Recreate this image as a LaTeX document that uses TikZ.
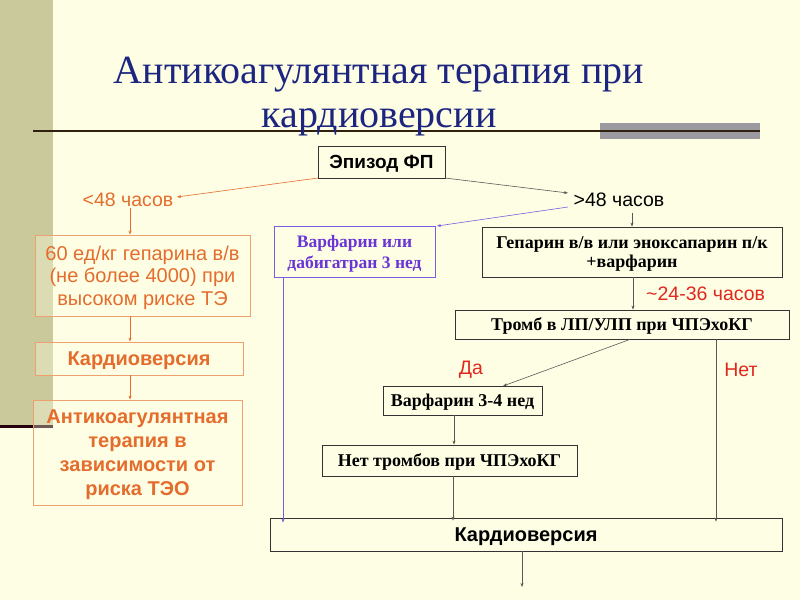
\documentclass[tikz,border=0pt]{standalone}
\usepackage{fontspec}
\setmainfont{Liberation Serif}
\newfontfamily\arial{Liberation Sans}
\usetikzlibrary{arrows.meta}
\definecolor{bg}{HTML}{FEFEE4}
\definecolor{strip}{HTML}{C9C99B}
\definecolor{navy}{HTML}{1C2580}
\definecolor{orng}{HTML}{E46C2C}
\definecolor{orngb}{HTML}{EFA070}
\definecolor{purp}{HTML}{6A35D6}
\definecolor{purpb}{HTML}{7C5CE0}
\definecolor{redt}{HTML}{E0281E}
\definecolor{barg}{HTML}{9A9AA0}
\tikzset{
  blk/.style={draw=black!80,line width=0.8pt,fill=bg,inner sep=0pt,align=center,text depth=0pt,font=\bfseries\fontsize{18}{20}\selectfont},
  orbox/.style={draw=orngb,line width=0.9pt,fill=bg,fill opacity=0.35,text opacity=1,inner sep=0pt,text=orng,align=center,text depth=0pt},
  pubox/.style={draw=purpb,line width=0.9pt,fill=bg,inner sep=0pt,text=purp,align=center,text depth=0pt,font=\bfseries\fontsize{17.5}{21}\selectfont},
  lbl/.style={font=\arial\fontsize{19.5}{22}\selectfont,inner sep=1pt},
  arr/.style={-{Stealth[length=4pt,width=3pt]},line width=0.6pt,draw=black!65},
  oarr/.style={-{Stealth[length=4pt,width=3pt]},line width=0.6pt,draw=orng},
  parr/.style={-{Stealth[length=4pt,width=3pt]},line width=0.6pt,draw=purpb},
}
\begin{document}
\begin{tikzpicture}[x=1pt,y=-1pt]
\useasboundingbox (0,0) rectangle (800,600);
\fill[bg] (0,0) rectangle (800,600);
\fill[strip] (0,0) rectangle (53,426);
\draw[line width=3pt,draw=black!80!purple] (0,426) -- (53,426);
\fill[barg] (600,123) rectangle (760,139);
\draw[line width=1.5pt,draw=black!75!brown] (33,131) -- (760,131);
\node[text=navy,font=\fontsize{40}{44}\selectfont,anchor=base] (title1) at (379,83) {Антикоагулянтная терапия при};
\node[text=navy,font=\fontsize{40}{44}\selectfont,anchor=base] (title2) at (379,127) {кардиоверсии};

% top
\node[blk,minimum width=127pt,minimum height=32pt,font=\arial\bfseries\fontsize{19}{21}\selectfont] (ep) at (381.5,162) {Эпизод ФП};
\node[lbl,text=orng] (lt) at (128,200) {<48 часов};
\node[lbl,text=black] (gt) at (619,200) {>48 часов};
\draw[oarr] (318,178) -- (177,197);
\draw[arr] (445,178) -- (568,193);

% left branch
\node[orbox,minimum width=215pt,minimum height=81pt,font=\arial\fontsize{20}{22.5}\selectfont] (hep) at (142.5,275.5) {60 ед/кг гепарина в/в\\(не более 4000) при\\высоком риске ТЭ};
\node[orbox,minimum width=208pt,minimum height=33pt,font=\arial\bfseries\fontsize{20}{22}\selectfont] (kv1) at (139,358.5) {Кардиоверсия};
\node[orbox,minimum width=209pt,minimum height=105pt,font=\arial\bfseries\fontsize{20}{24}\selectfont] (ac) at (137.5,452.5) {Антикоагулянтная\\терапия в\\зависимости от\\риска ТЭО};
\draw[oarr] (lt.south -| 130,0) -- (hep.north -| 130,0);
\draw[oarr] (hep.south -| 130,0) -- (kv1.north -| 130,0);
\draw[oarr] (kv1.south -| 130,0) -- (ac.north -| 130,0);

% right branch
\node[pubox,minimum width=161pt,minimum height=51pt] (war) at (354.5,251.5) {Варфарин или\\дабигатран 3 нед};
\node[blk,minimum width=300pt,minimum height=50pt,font=\bfseries\fontsize{18}{19}\selectfont] (hep2) at (632,252) {Гепарин в/в или эноксапарин п/к\\+варфарин};
\node[blk,minimum width=334pt,minimum height=29pt] (tromb) at (622,324.5) {Тромб в ЛП/УЛП при ЧПЭхоКГ};
\node[blk,minimum width=159pt,minimum height=29pt] (w34) at (462.5,400.5) {Варфарин 3-4 нед};
\node[blk,minimum width=255pt,minimum height=31pt] (net) at (449.5,460.5) {Нет тромбов при ЧПЭхоКГ};
\node[blk,minimum width=512pt,minimum height=33pt,font=\arial\bfseries\fontsize{20}{22}\selectfont] (kv2) at (526,534.5) {Кардиоверсия};
\coordinate (end) at (522,587);

\draw[parr] (568,207) -- (437,226);
\draw[arr] (632,213) -- (hep2.north -| 632,0);
\draw[arr] (hep2.south -| 633,0) -- (tromb.north -| 633,0);
\node[lbl,text=redt,anchor=west] (h24) at (645,294) {\textasciitilde24-36 часов};
\draw[arr] (tromb.south -| 630,0) -- (503,386);
\node[lbl,text=redt] (da) at (471,370) {Да};
\node[lbl,text=redt] (no) at (741,370) {Нет};
\draw[arr] (tromb.south -| 716,0) -- ([yshift=-4pt]kv2.north -| 716,0);
\draw[arr] (w34.south -| 454,0) -- (net.north -| 454,0);
\draw[arr] (net.south -| 453,0) -- ([yshift=-3pt]kv2.north -| 453,0);
\draw[parr] (war.south -| 283,0) -- ([yshift=-5pt]kv2.north -| 283,0);
\draw[arr] (kv2.south -| 522,0) -- (end);
\end{tikzpicture}
\end{document}
